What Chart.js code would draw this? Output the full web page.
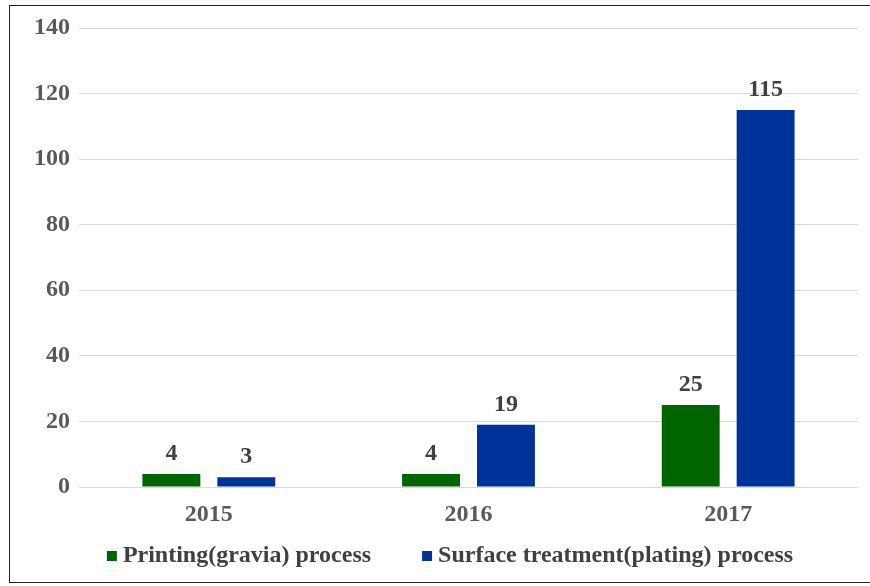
<!DOCTYPE html>
<html>
<head>
<meta charset="utf-8">
<script src="https://cdn.jsdelivr.net/npm/chart.js@4"></script>
<style>
html,body{margin:0;padding:0;background:#fff;}
#wrap{position:relative;width:870px;height:586px;}
#frame{position:absolute;left:9px;top:5px;width:870px;height:578px;border:1px solid #222;border-right:none;box-sizing:border-box;pointer-events:none;}
canvas{position:absolute;left:0;top:0;}
</style>
</head>
<body>
<div id="wrap">
<canvas id="c" width="870" height="586"></canvas>
<div id="frame"></div>
</div>
<script>
const categories = ["2015", "2016", "2017"];
const printingValues = [4, 4, 25];
const platingValues = [3, 19, 115];
const seriesNames = ["Printing(gravia) process", "Surface treatment(plating) process"];
const seriesColors = ["#006400", "#003399"];
const yTicks = [0, 20, 40, 60, 80, 100, 120, 140];

const FONT = "'Liberation Serif', 'Times New Roman', serif";
const FSIZE = 24;

const labelPlugin = {
  id: 'valueLabels',
  afterDatasetsDraw(chart) {
    const ctx = chart.ctx;
    ctx.save();
    ctx.font = "bold " + FSIZE + "px " + FONT;
    ctx.fillStyle = "#404040";
    ctx.textAlign = "center";
    ctx.textBaseline = "middle";
    chart.data.datasets.forEach((ds, i) => {
      const meta = chart.getDatasetMeta(i);
      meta.data.forEach((bar, j) => {
        ctx.fillText(String(ds.data[j]), bar.x, bar.y - 20);
      });
    });
    ctx.restore();
  }
};

const legendPlugin = {
  id: 'customLegend',
  afterDraw(chart) {
    const ctx = chart.ctx;
    ctx.save();
    ctx.font = "bold " + FSIZE + "px " + FONT;
    ctx.textBaseline = "middle";
    ctx.textAlign = "left";
    const box = 10, gapText = 6, gapItem = 51;
    const items = chart.data.datasets.map(d => ({ label: d.label, color: d.backgroundColor, w: ctx.measureText(d.label).width }));
    let total = 0;
    items.forEach((it, i) => { total += box + gapText + it.w + (i < items.length - 1 ? gapItem : 0); });
    let x = 450 - total / 2;
    const y = 556;
    items.forEach(it => {
      ctx.fillStyle = it.color;
      ctx.fillRect(x, y - 5, box, box);
      x += box + gapText;
      ctx.fillStyle = "#404040";
      ctx.fillText(it.label, x, y);
      x += it.w + gapItem;
    });
    ctx.restore();
  }
};

new Chart(document.getElementById('c'), {
  type: 'bar',
  data: {
    labels: categories,
    datasets: [
      { label: seriesNames[0], data: printingValues, backgroundColor: seriesColors[0], categoryPercentage: 0.577, barPercentage: 0.773 },
      { label: seriesNames[1], data: platingValues, backgroundColor: seriesColors[1], categoryPercentage: 0.577, barPercentage: 0.773 }
    ]
  },
  options: {
    responsive: false,
    animation: false,
    layout: { padding: { left: 0, right: 12, top: 28, bottom: 55 } },
    plugins: {
      legend: { display: false },
      tooltip: { enabled: false }
    },
    scales: {
      x: {
        grid: { display: false, drawTicks: false },
        border: { display: true, color: '#d9d9d9' },
        ticks: { color: '#595959', font: { family: FONT, size: FSIZE, weight: 'bold' }, padding: 13 },
        afterFit(s) { s.height = 44; }
      },
      y: {
        min: 0, max: 140,
        afterBuildTicks(s) { s.ticks = yTicks.map(v => ({ value: v })); },
        grid: { color: '#d9d9d9', drawTicks: false },
        border: { display: false },
        ticks: { color: '#595959', font: { family: FONT, size: FSIZE, weight: 'bold' }, padding: 9 },
        afterFit(s) { s.width = 79; }
      }
    }
  },
  plugins: [labelPlugin, legendPlugin]
});
</script>
</body>
</html>
